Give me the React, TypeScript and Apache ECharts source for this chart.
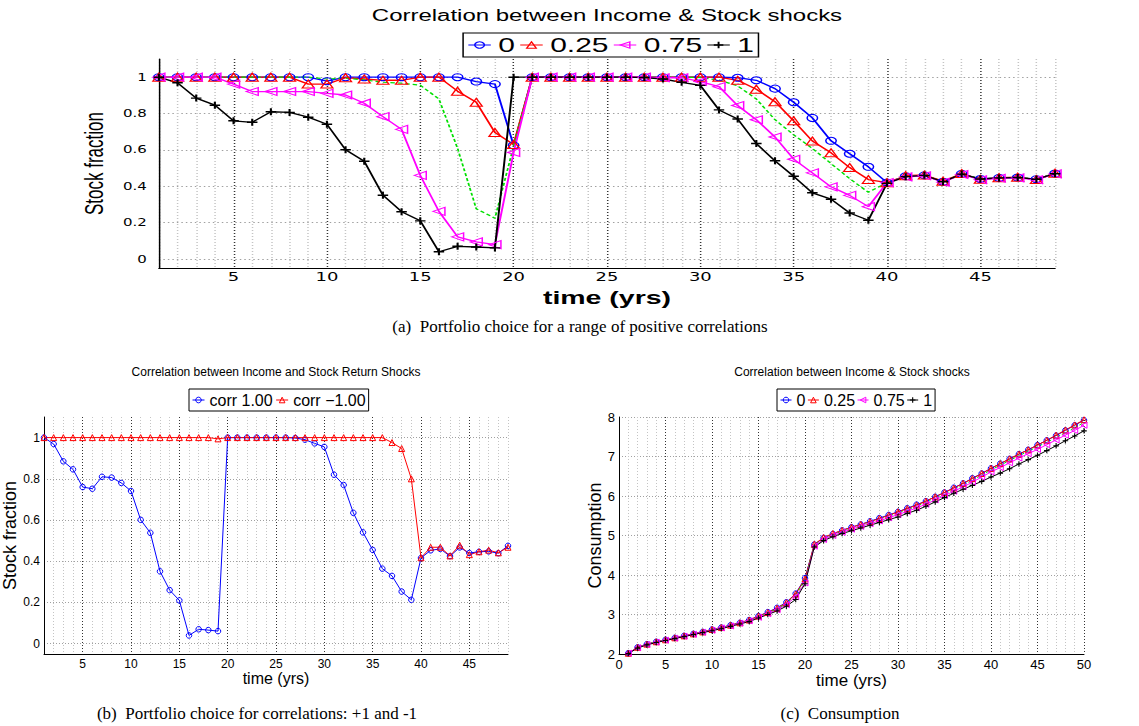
import React, { useEffect, useRef } from 'react';
import * as echarts from 'echarts';

// ---------- data ----------
const yearsA: number[] = Array.from({ length: 49 }, (_, i) => i + 1);
const yearsC: number[] = Array.from({ length: 50 }, (_, i) => i + 1);

// (a) stock fraction for correlations 0, 0.25, 0.5 (green dashed), 0.75, 1
const frac0 = [1, 1, 1, 1, 1, 1, 1, 1, 1, 0.978, 1, 1, 1, 1, 1, 1, 1, 0.976, 0.962, 0.625, 1, 1, 1, 1, 1, 1, 1, 1, 1, 1, 1, 0.997, 0.983, 0.937, 0.862, 0.776, 0.65, 0.579, 0.507, 0.42, 0.455, 0.46, 0.425, 0.468, 0.44, 0.446, 0.448, 0.439, 0.47];
const frac025 = [1, 1, 1, 1, 1, 1, 1, 1, 0.962, 0.962, 0.997, 0.99, 0.983, 0.983, 1, 1, 0.923, 0.862, 0.696, 0.63, 1, 1, 1, 1, 1, 1, 1, 1, 1, 1, 1, 0.983, 0.934, 0.865, 0.76, 0.649, 0.584, 0.503, 0.437, 0.42, 0.458, 0.462, 0.428, 0.47, 0.438, 0.447, 0.45, 0.437, 0.472];
const frac05 = [1, 1, 1, 1, 1, 1, 1, 1, 1, 0.99, 0.995, 0.985, 0.972, 0.967, 0.956, 0.88, 0.608, 0.276, 0.224, 0.62, 1, 1, 1, 1, 1, 1, 1, 1, 1, 0.998, 0.984, 0.952, 0.88, 0.766, 0.683, 0.608, 0.525, 0.442, 0.367, 0.42, 0.455, 0.46, 0.425, 0.468, 0.44, 0.446, 0.448, 0.439, 0.47];
const frac075 = [1, 1, 1, 1, 0.962, 0.921, 0.921, 0.921, 0.921, 0.911, 0.902, 0.857, 0.783, 0.713, 0.46, 0.262, 0.122, 0.094, 0.079, 0.586, 1, 1, 1, 1, 1, 1, 1, 0.997, 0.997, 0.976, 0.948, 0.844, 0.766, 0.671, 0.549, 0.474, 0.397, 0.35, 0.288, 0.42, 0.452, 0.458, 0.422, 0.465, 0.436, 0.444, 0.446, 0.436, 0.468];
const frac1 = [1, 0.969, 0.885, 0.846, 0.76, 0.752, 0.81, 0.806, 0.78, 0.741, 0.601, 0.538, 0.351, 0.26, 0.21, 0.04, 0.07, 0.066, 0.061, 1, 1, 1, 1, 1, 1, 1, 0.998, 0.99, 0.972, 0.955, 0.82, 0.77, 0.635, 0.54, 0.455, 0.364, 0.329, 0.253, 0.213, 0.416, 0.453, 0.46, 0.425, 0.467, 0.44, 0.446, 0.448, 0.439, 0.469];

// (b) correlations +1 and -1
const fracPlus1 = [1, 0.969, 0.885, 0.846, 0.76, 0.752, 0.81, 0.806, 0.78, 0.741, 0.601, 0.538, 0.351, 0.26, 0.21, 0.04, 0.07, 0.066, 0.061, 1, 1, 1, 1, 1, 1, 1, 0.998, 0.99, 0.972, 0.955, 0.82, 0.77, 0.635, 0.54, 0.455, 0.364, 0.329, 0.253, 0.213, 0.416, 0.453, 0.46, 0.425, 0.467, 0.44, 0.446, 0.448, 0.439, 0.475];
const fracMinus1 = [1, 1, 1, 1, 1, 1, 1, 1, 1, 1, 1, 1, 1, 1, 1, 1, 1, 1, 0.994, 1, 1, 1, 1, 1, 1, 1, 1, 1, 1, 1, 1, 1, 1, 1, 1, 1, 0.976, 0.947, 0.8, 0.417, 0.468, 0.468, 0.426, 0.478, 0.432, 0.446, 0.454, 0.441, 0.468];

// (c) consumption
const cons0 = [2.02, 2.17, 2.25, 2.31, 2.36, 2.41, 2.46, 2.51, 2.56, 2.62, 2.67, 2.73, 2.79, 2.86, 2.96, 3.06, 3.17, 3.31, 3.53, 3.92, 4.77, 4.94, 5.04, 5.13, 5.21, 5.28, 5.36, 5.44, 5.52, 5.6, 5.69, 5.78, 5.87, 5.98, 6.09, 6.21, 6.32, 6.45, 6.57, 6.7, 6.82, 6.94, 7.06, 7.17, 7.29, 7.41, 7.53, 7.66, 7.79, 7.92];
const cons025 = [2.02, 2.17, 2.25, 2.31, 2.36, 2.41, 2.46, 2.51, 2.56, 2.62, 2.67, 2.73, 2.79, 2.86, 2.96, 3.05, 3.16, 3.3, 3.52, 3.9, 4.78, 4.95, 5.05, 5.13, 5.21, 5.28, 5.35, 5.43, 5.51, 5.6, 5.68, 5.77, 5.87, 5.98, 6.09, 6.2, 6.32, 6.44, 6.57, 6.7, 6.82, 6.94, 7.06, 7.17, 7.29, 7.41, 7.54, 7.67, 7.8, 7.93];
const cons05 = [2.02, 2.16, 2.25, 2.31, 2.36, 2.41, 2.46, 2.51, 2.56, 2.61, 2.67, 2.72, 2.78, 2.85, 2.94, 3.04, 3.14, 3.28, 3.49, 3.86, 4.75, 4.92, 5.02, 5.11, 5.19, 5.26, 5.33, 5.41, 5.49, 5.57, 5.65, 5.74, 5.84, 5.94, 6.05, 6.16, 6.28, 6.4, 6.53, 6.66, 6.78, 6.9, 7.02, 7.13, 7.25, 7.36, 7.48, 7.6, 7.73, 7.86];
const cons075 = [2.02, 2.16, 2.24, 2.3, 2.35, 2.4, 2.45, 2.5, 2.55, 2.6, 2.66, 2.71, 2.78, 2.84, 2.93, 3.02, 3.12, 3.25, 3.45, 3.8, 4.73, 4.9, 5.0, 5.08, 5.16, 5.23, 5.3, 5.37, 5.45, 5.53, 5.61, 5.7, 5.79, 5.9, 6.01, 6.12, 6.23, 6.35, 6.48, 6.61, 6.72, 6.84, 6.96, 7.07, 7.18, 7.3, 7.42, 7.54, 7.66, 7.79];
const cons1 = [2.01, 2.15, 2.23, 2.29, 2.34, 2.39, 2.44, 2.49, 2.54, 2.59, 2.64, 2.7, 2.76, 2.82, 2.91, 3.0, 3.09, 3.21, 3.38, 3.78, 4.71, 4.87, 4.97, 5.05, 5.12, 5.19, 5.26, 5.33, 5.4, 5.47, 5.56, 5.64, 5.74, 5.85, 5.96, 6.07, 6.17, 6.27, 6.37, 6.48, 6.58, 6.69, 6.81, 6.92, 7.03, 7.15, 7.27, 7.4, 7.52, 7.65];

// tick labels
const xTicksA = [5, 10, 15, 20, 25, 30, 35, 40, 45];
const yTicksA = [0, 0.2, 0.4, 0.6, 0.8, 1];
const xTicksC = [0, 5, 10, 15, 20, 25, 30, 35, 40, 45, 50];
const yTicksC = [2, 3, 4, 5, 6, 7, 8];

const legendA = ['0', '0.25', '0.75', '1'];
const legendB = ['corr 1.00', 'corr \u22121.00'];

// ---------- styling helpers ----------
const BLUE = '#0000ff';
const RED = '#ff0000';
const MAG = '#ff00ff';
const GREEN = '#00e000';
const BLACK = '#000000';
const CLEAR = 'rgba(255,255,255,0)';
const PLUS = 'path://M4,0H6V4H10V6H6V10H4V6H0V4H4Z';
const FONT = 'Liberation Sans, Arial, sans-serif';
const WIDE = 'DejaVu Sans, Liberation Sans, sans-serif';
const SERIF = 'Liberation Serif, Times New Roman, serif';
const MINOR = '#c4c4c4';
const MAJOR = '#333333';
const HGRID = '#a0a0a0';

const markerOf: Record<string, { color: string; kind: string }> = {
  '0': { color: BLUE, kind: 'circle' },
  '0.25': { color: RED, kind: 'triangle' },
  '0.75': { color: MAG, kind: 'left' },
  '1': { color: BLACK, kind: 'plus' },
  'corr 1.00': { color: BLUE, kind: 'circle' },
  'corr \u22121.00': { color: RED, kind: 'triangle' },
};

function symbolParts(kind: string, color: string) {
  if (kind === 'plus') return { symbol: PLUS, itemStyle: { color, borderWidth: 0 } };
  const out: any = {
    symbol: kind === 'circle' ? 'circle' : 'triangle',
    itemStyle: { color: CLEAR, borderColor: color, borderWidth: 1 },
  };
  if (kind === 'left') out.symbolRotate = 90;
  return out;
}

function legendItems(names: string[]) {
  return names.map((n) => {
    const m = markerOf[n];
    const p = symbolParts(m.kind, m.color);
    return { name: n, itemStyle: p.itemStyle, lineStyle: { color: m.color, width: 1 } };
  });
}

function mk(name: string, xs: number[], ys: number[], color: string, kind: string, size: number, width: number, xi = 0, yi = 0) {
  const base: any = {
    type: 'line',
    name,
    xAxisIndex: xi,
    yAxisIndex: yi,
    data: xs.map((x, i) => [x, ys[i]]),
    lineStyle: { color, width },
    emphasis: { disabled: true },
    silent: true,
  };
  if (kind === 'none') {
    base.symbol = 'none';
    base.lineStyle.type = [3, 2];
    base.itemStyle = { color };
  } else {
    Object.assign(base, symbolParts(kind, color));
    base.symbolSize = size;
  }
  return base;
}

const fracLabel = (v: number) => (yTicksA.some((t) => Math.abs(t - v) < 1e-6) ? String(Math.round(v * 10) / 10) : '');

function xAxisFrac(fontSize: number, family: string, margin: number, name: string, nameGap: number, nameStyle: any, gridIndex = 0) {
  return {
    type: 'value', gridIndex, min: 1, max: 49, interval: 1,
    axisLine: { onZero: false, lineStyle: { color: BLACK, width: 1 } },
    axisTick: { show: false },
    axisLabel: { color: BLACK, fontSize, margin, fontFamily: family, formatter: (v: number) => (xTicksA.includes(Math.round(v)) ? String(Math.round(v)) : '') },
    splitLine: { show: true, lineStyle: { color: [MINOR, MINOR, MINOR, MINOR, MAJOR], type: [1, 2], width: 1 } },
    name, nameLocation: 'middle', nameGap, nameTextStyle: nameStyle,
  };
}
function yAxisFrac(fontSize: number, family: string, margin: number, name: string, nameGap: number, nameStyle: any, gridIndex = 0) {
  return {
    type: 'value', gridIndex, min: -0.05, max: 1.1, interval: 0.05,
    axisLine: { show: true, lineStyle: { color: BLACK, width: 1 } },
    axisTick: { show: false },
    axisLabel: { color: BLACK, fontSize, margin, fontFamily: family, formatter: fracLabel },
    splitLine: { show: true, lineStyle: { color: [CLEAR, HGRID, CLEAR, CLEAR], type: [1, 2], width: 1 } },
    name, nameLocation: 'middle', nameGap, nameTextStyle: nameStyle,
  };
}

export default function App() {
  const topRef = useRef<HTMLDivElement>(null);
  const botRef = useRef<HTMLDivElement>(null);

  useEffect(() => {
    const top = echarts.init(topRef.current!, undefined, { renderer: 'svg' });
    const bot = echarts.init(botRef.current!, undefined, { renderer: 'svg' });

    top.setOption({
      animation: false,
      textStyle: { fontFamily: FONT },
      grid: { left: 106, right: 56, top: 59, bottom: 33 },
      xAxis: xAxisFrac(12, WIDE, 3, 'time (yrs)', 10, { fontSize: 19, fontWeight: 'bold', color: BLACK, fontFamily: FONT }),
      yAxis: yAxisFrac(10, WIDE, 8, 'Stock fraction', 30, { fontSize: 17, color: BLACK, fontFamily: 'Liberation Sans Narrow, Liberation Sans, Arial' }),
      legend: {
        data: legendItems(legendA), left: 309, top: 33, orient: 'horizontal',
        itemWidth: 15, itemHeight: 8, itemGap: 3, padding: [2, 3],
        borderColor: BLACK, borderWidth: 1, backgroundColor: '#fff',
        textStyle: { fontSize: 20, color: BLACK, fontFamily: FONT, lineHeight: 18 },
        selectedMode: false,
      },
      graphic: [
        { type: 'text', x: 405, y: 16, style: { text: 'Correlation between Income & Stock shocks', textAlign: 'center', textVerticalAlign: 'middle', fontSize: 16, fontFamily: FONT, fill: BLACK } },
      ],
      series: [
        mk('0', yearsA, frac0, BLUE, 'circle', 7, 1.3),
        mk('0.25', yearsA, frac025, RED, 'triangle', 8, 1.3),
        mk('0.5', yearsA, frac05, GREEN, 'none', 0, 1.2),
        mk('0.75', yearsA, frac075, MAG, 'left', 8, 1.3),
        mk('1', yearsA, frac1, BLACK, 'plus', 7, 1.3),
      ],
    });

    bot.setOption({
      animation: false,
      textStyle: { fontFamily: FONT },
      grid: [
        { left: 44, top: 417, width: 464, height: 237 },
        { left: 619, top: 417, width: 465, height: 237 },
      ],
      xAxis: [
        xAxisFrac(12, FONT, 4, 'time (yrs)', 15, { fontSize: 16, color: BLACK, fontFamily: FONT }, 0),
        {
          type: 'value', gridIndex: 1, min: 0, max: 50, interval: 1,
          axisLine: { onZero: false, lineStyle: { color: BLACK, width: 1 } },
          axisTick: { show: false },
          axisLabel: { color: BLACK, fontSize: 13, margin: 4, fontFamily: FONT, formatter: (v: number) => (xTicksC.includes(Math.round(v)) ? String(Math.round(v)) : '') },
          splitLine: { show: true, lineStyle: { color: [MAJOR, MINOR, MINOR, MINOR, MINOR], type: [1, 2], width: 1 } },
          name: 'time (yrs)', nameLocation: 'middle', nameGap: 15, nameTextStyle: { fontSize: 17, color: BLACK, fontFamily: FONT },
        },
      ],
      yAxis: [
        yAxisFrac(12, FONT, 4, 'Stock fraction', 21, { fontSize: 18, color: BLACK, fontFamily: FONT }, 0),
        {
          type: 'value', gridIndex: 1, min: 2, max: 8, interval: 1,
          axisLine: { show: true, lineStyle: { color: BLACK, width: 1 } },
          axisTick: { show: false },
          axisLabel: { color: BLACK, fontSize: 13, margin: 4, fontFamily: FONT, formatter: (v: number) => (yTicksC.includes(Math.round(v)) ? String(Math.round(v)) : '') },
          splitLine: { show: true, lineStyle: { color: HGRID, type: [1, 2], width: 1 } },
          name: 'Consumption', nameLocation: 'middle', nameGap: 12, nameTextStyle: { fontSize: 18, color: BLACK, fontFamily: FONT },
        },
      ],
      legend: [
        {
          data: legendItems(legendB), left: 189, top: 389, itemWidth: 12, itemHeight: 7, itemGap: 3, padding: [2, 3],
          borderColor: BLACK, borderWidth: 1, backgroundColor: '#fff', selectedMode: false,
          textStyle: { fontSize: 16, color: BLACK, fontFamily: FONT, lineHeight: 18 },
        },
        {
          data: legendItems(legendA), left: 777, top: 389, itemWidth: 11, itemHeight: 7, itemGap: 2, padding: [2, 3],
          borderColor: BLACK, borderWidth: 1, backgroundColor: '#fff', selectedMode: false,
          textStyle: { fontSize: 16, color: BLACK, fontFamily: FONT, lineHeight: 18 },
        },
      ],
      graphic: [
        { type: 'text', x: 276, y: 372, style: { text: 'Correlation between Income and Stock Return Shocks', textAlign: 'center', textVerticalAlign: 'middle', fontSize: 12, fontFamily: FONT, fill: BLACK } },
        { type: 'text', x: 852, y: 372, style: { text: 'Correlation between Income & Stock shocks', textAlign: 'center', textVerticalAlign: 'middle', fontSize: 12, fontFamily: FONT, fill: BLACK } },
        { type: 'text', x: 580, y: 326, style: { text: '(a)\u00a0\u00a0Portfolio choice for a range of positive correlations', textAlign: 'center', textVerticalAlign: 'middle', fontSize: 17, fontFamily: SERIF, fill: BLACK } },
        { type: 'text', x: 257, y: 713, style: { text: '(b)\u00a0\u00a0Portfolio choice for correlations: +1 and -1', textAlign: 'center', textVerticalAlign: 'middle', fontSize: 17, fontFamily: SERIF, fill: BLACK } },
        { type: 'text', x: 840, y: 713, style: { text: '(c)\u00a0\u00a0Consumption', textAlign: 'center', textVerticalAlign: 'middle', fontSize: 17, fontFamily: SERIF, fill: BLACK } },
      ],
      series: [
        mk('corr 1.00', yearsA, fracPlus1, BLUE, 'circle', 5.5, 1, 0, 0),
        mk('corr \u22121.00', yearsA, fracMinus1, RED, 'triangle', 6, 1, 0, 0),
        mk('0', yearsC, cons0, BLUE, 'circle', 5.5, 1, 1, 1),
        mk('0.25', yearsC, cons025, RED, 'triangle', 6, 1, 1, 1),
        mk('0.5', yearsC, cons05, GREEN, 'none', 0, 1, 1, 1),
        mk('0.75', yearsC, cons075, MAG, 'left', 6, 1, 1, 1),
        mk('1', yearsC, cons1, BLACK, 'plus', 5.5, 1, 1, 1),
      ],
    });

    return () => {
      top.dispose();
      bot.dispose();
    };
  }, []);

  return (
    <div style={{ position: 'fixed', left: 0, top: 0, width: 1139, height: 726, background: '#fff', overflow: 'hidden' }}>
      <div ref={botRef} style={{ position: 'absolute', left: 0, top: 0, width: 1139, height: 726 }} />
      <div ref={topRef} style={{ position: 'absolute', left: 0, top: 0, width: 760, height: 312, transform: 'scaleX(1.49868)', transformOrigin: '0 0' }} />
    </div>
  );
}
